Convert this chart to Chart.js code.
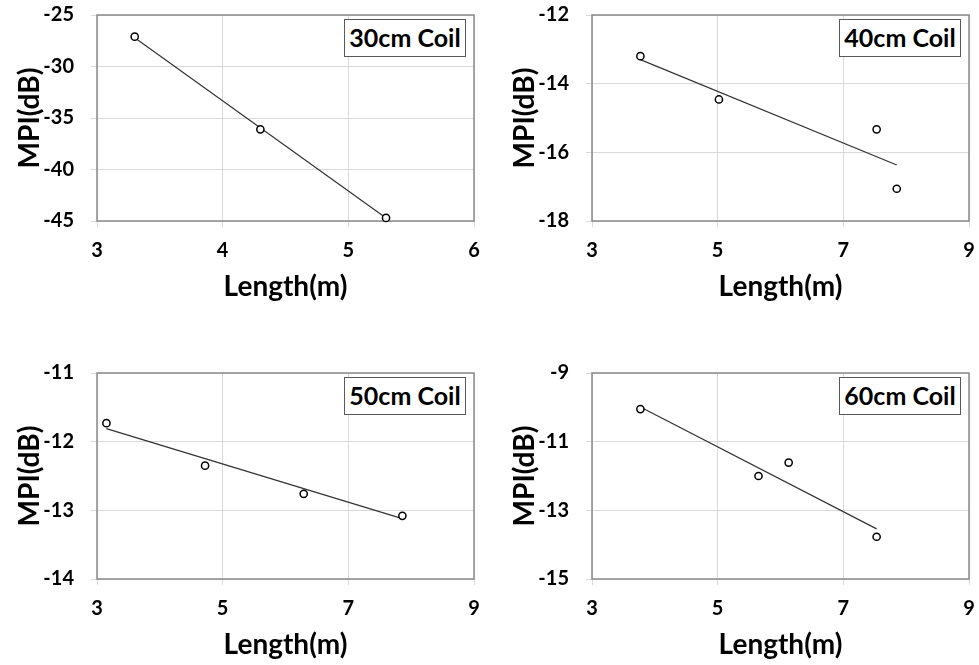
<!DOCTYPE html>
<html>
<head>
<meta charset="utf-8">
<script src="https://cdn.jsdelivr.net/npm/chart.js@4.4.0/dist/chart.umd.min.js"></script>
<style>
  html, body { margin: 0; padding: 0; background: #fff; width: 979px; height: 665px; overflow: hidden; }
  .panel { position: absolute; width: 484px; height: 330px; }
  .coil-label {
    position: absolute; left: 344px; top: 19px; box-sizing: border-box;
    width: 122px; height: 38px; border: 1.5px solid #595959; background: #fff;
    font: bold 25px Lato, sans-serif; color: #000; text-align: center; line-height: 35px;
  }
</style>
</head>
<body>
<div class="panel" style="left:0;top:0"><canvas id="chart30"></canvas><div class="coil-label">30cm Coil</div></div>
<div class="panel" style="left:495px;top:0"><canvas id="chart40"></canvas><div class="coil-label">40cm Coil</div></div>
<div class="panel" style="left:0;top:358px"><canvas id="chart50"></canvas><div class="coil-label">50cm Coil</div></div>
<div class="panel" style="left:495px;top:358px"><canvas id="chart60"></canvas><div class="coil-label">60cm Coil</div></div>
<script>
// 30cm coil
const length30 = [3.3, 4.3, 5.3];
const mpi30 = [-27.1, -36.1, -44.7];
const trendLength30 = [3.3, 5.3];
const trendMpi30 = [-27.2, -44.7];
const xTicks30 = [3, 4, 5, 6];
const yTicks30 = [-45, -40, -35, -30, -25];

// 40cm coil
const length40 = [3.77, 5.02, 7.53, 7.85];
const mpi40 = [-13.2, -14.46, -15.33, -17.06];
const trendLength40 = [3.77, 7.85];
const trendMpi40 = [-13.3, -16.37];
const xTicks40 = [3, 5, 7, 9];
const yTicks40 = [-18, -16, -14, -12];

// 50cm coil
const length50 = [3.15, 4.72, 6.29, 7.86];
const mpi50 = [-11.73, -12.35, -12.76, -13.08];
const trendLength50 = [3.15, 7.86];
const trendMpi50 = [-11.81, -13.12];
const xTicks50 = [3, 5, 7, 9];
const yTicks50 = [-14, -13, -12, -11];

// 60cm coil
const length60 = [3.77, 5.65, 6.13, 7.53];
const mpi60 = [-10.05, -12.0, -11.61, -13.77];
const trendLength60 = [3.77, 7.53];
const trendMpi60 = [-9.99, -13.54];
const xTicks60 = [3, 5, 7, 9];
const yTicks60 = [-15, -13, -11, -9];

const plotBorder = {
  id: 'plotBorder',
  beforeDatasetsDraw(chart) {
    const { ctx, chartArea: a } = chart;
    ctx.save();
    ctx.strokeStyle = '#8a8a8a';
    ctx.lineWidth = 1.5;
    ctx.strokeRect(a.left, a.top, a.right - a.left, a.bottom - a.top);
    ctx.restore();
  }
};

function makeChart(canvasId, xs, ys, tx, ty, xTicks, yTicks) {
  const points = xs.map((x, i) => ({ x, y: ys[i] }));
  const trend = tx.map((x, i) => ({ x, y: ty[i] }));
  const tickFont = { family: 'Lato', size: 20, weight: 'bold' };
  const titleFont = { family: 'Lato', size: 28, weight: 'bold' };

  return new Chart(document.getElementById(canvasId), {
    type: 'scatter',
    data: {
      datasets: [
        {
          label: 'MPI',
          data: points,
          pointRadius: 3.6,
          pointBorderWidth: 1.5,
          pointBorderColor: '#000',
          pointBackgroundColor: '#fff',
          showLine: false,
          order: 0,
          clip: false
        },
        {
          label: 'Trend',
          data: trend,
          showLine: true,
          borderColor: '#333',
          borderWidth: 1.2,
          pointRadius: 0,
          order: 1,
          clip: false
        }
      ]
    },
    options: {
      responsive: true,
      maintainAspectRatio: false,
      animation: false,
      layout: { padding: { left: 0, right: 10, top: 15, bottom: 0 } },
      plugins: { legend: { display: false }, tooltip: { enabled: false } },
      scales: {
        x: {
          type: 'linear',
          min: xTicks[0],
          max: xTicks[xTicks.length - 1],
          afterBuildTicks: s => { s.ticks = xTicks.map(v => ({ value: v })); },
          afterFit: s => { s.height = 109; s.paddingLeft = 0; s.paddingRight = 0; },
          grid: { color: '#d9d9d9', tickColor: '#d9d9d9', tickLength: 6 },
          border: { display: false },
          ticks: { font: tickFont, color: '#000', padding: 12 },
          title: { display: true, text: 'Length(m)', font: titleFont, color: '#000', padding: { top: 0, bottom: 26 } }
        },
        y: {
          type: 'linear',
          min: yTicks[0],
          max: yTicks[yTicks.length - 1],
          afterBuildTicks: s => { s.ticks = yTicks.map(v => ({ value: v })); },
          afterFit: s => { s.width = 97; s.paddingTop = 0; s.paddingBottom = 0; },
          grid: { color: '#d9d9d9', tickColor: '#d9d9d9', tickLength: 6 },
          border: { display: false },
          ticks: { font: tickFont, color: '#000', padding: 17 },
          title: { display: true, text: 'MPI(dB)', font: titleFont, color: '#000', padding: { top: 13, bottom: 0 } }
        }
      }
    },
    plugins: [plotBorder]
  });
}

makeChart('chart30', length30, mpi30, trendLength30, trendMpi30, xTicks30, yTicks30);
makeChart('chart40', length40, mpi40, trendLength40, trendMpi40, xTicks40, yTicks40);
makeChart('chart50', length50, mpi50, trendLength50, trendMpi50, xTicks50, yTicks50);
makeChart('chart60', length60, mpi60, trendLength60, trendMpi60, xTicks60, yTicks60);
</script>
</body>
</html>
